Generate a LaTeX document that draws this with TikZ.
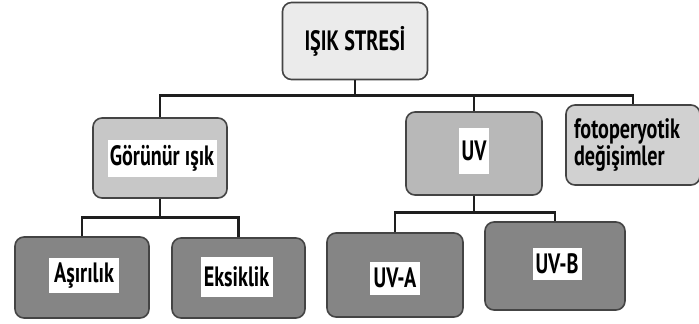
\documentclass[tikz,border=0pt]{standalone}
\usepackage{fontspec}
\newfontfamily\kutufont{PT Sans}[FakeStretch=0.72]
\usetikzlibrary{positioning}

\definecolor{cizgi}{HTML}{1E1E1E}
\definecolor{kenar}{HTML}{444444}
\definecolor{acik}{HTML}{EBEBEB}
\definecolor{orta}{HTML}{B8B8B8}
\definecolor{koyu}{HTML}{858585}

\tikzset{
  kutu/.style={draw=kenar,line width=1.6pt,rounded corners=9pt,inner sep=0pt},
  etiket/.style={fill=white,inner sep=0pt,font=\kutufont\bfseries\fontsize{28}{24}\selectfont},
  bag/.style={draw=cizgi,line width=2.8pt}
}

\begin{document}
\begin{tikzpicture}[x=1pt,y=-1pt]
\useasboundingbox (0,0) rectangle (699,324);

% kutular
\node[kutu,fill=acik,minimum width=145pt,minimum height=77pt] (kok) at (355,41) {};
\node[kutu,fill=orta!70!acik,minimum width=134pt,minimum height=80pt] (gorunur) at (160,158) {};
\node[kutu,fill=orta,minimum width=136pt,minimum height=83pt] (uv) at (474,153.5) {};
\node[kutu,fill=orta!50!acik,minimum width=134pt,minimum height=80pt] (foto) at (633,145) {};
\node[kutu,fill=koyu,minimum width=134pt,minimum height=81pt] (asiri) at (82,277.5) {};
\node[kutu,fill=koyu,minimum width=133pt,minimum height=80pt] (eksik) at (238.5,278) {};
\node[kutu,fill=koyu,minimum width=136pt,minimum height=84pt] (uva) at (395,275) {};
\node[kutu,fill=koyu,minimum width=140pt,minimum height=88pt] (uvb) at (555,266) {};

% yazilar
\node[etiket,fill=acik] (kok-y) at (kok.center) {IŞIK STRESİ};
\node[etiket,minimum width=109pt,minimum height=37pt] (gorunur-y) at ([xshift=2pt]gorunur.center) {Görünür ışık};
\node[etiket,minimum width=30pt,minimum height=46pt] (uv-y) at ([yshift=3pt]uv.center) {UV};
\node[etiket,fill=orta!50!acik,align=left] (foto-y) at ([xshift=-6pt]foto.center) {fotoperyotik\\değişimler};
\node[etiket,minimum width=70pt,minimum height=35pt] (asiri-y) at ([xshift=2pt,yshift=2pt]asiri.center) {Aşırılık};
\node[etiket,minimum width=72pt,minimum height=40pt] (eksik-y) at ([xshift=-2pt,yshift=1pt]eksik.center) {Eksiklik};
\node[etiket,minimum width=50pt,minimum height=33pt] (uva-y) at ([yshift=-3pt]uva.center) {UV-A};
\node[etiket,minimum width=49pt,minimum height=32pt] (uvb-y) at ([xshift=2pt,yshift=2pt]uvb.center) {UV-B};

% baglantilar
\coordinate (catal1) at ([yshift=-15pt]kok.south);
\coordinate (catal2) at ([yshift=-19pt]gorunur.south);
\coordinate (catal3) at ([yshift=-17pt]uv.south);
\draw[bag] (kok.south) -- (catal1);
\draw[bag] (gorunur.north) |- (catal1) -| (foto.north);
\draw[bag] (uv.north) -- (uv.north |- catal1);
\draw[bag] (gorunur.south) -- (catal2);
\draw[bag] (asiri.north) |- (catal2) -| (eksik.north);
\draw[bag] (uv.south) -- (catal3);
\draw[bag] (uva.north) |- (catal3) -| (uvb.north);
\end{tikzpicture}
\end{document}
